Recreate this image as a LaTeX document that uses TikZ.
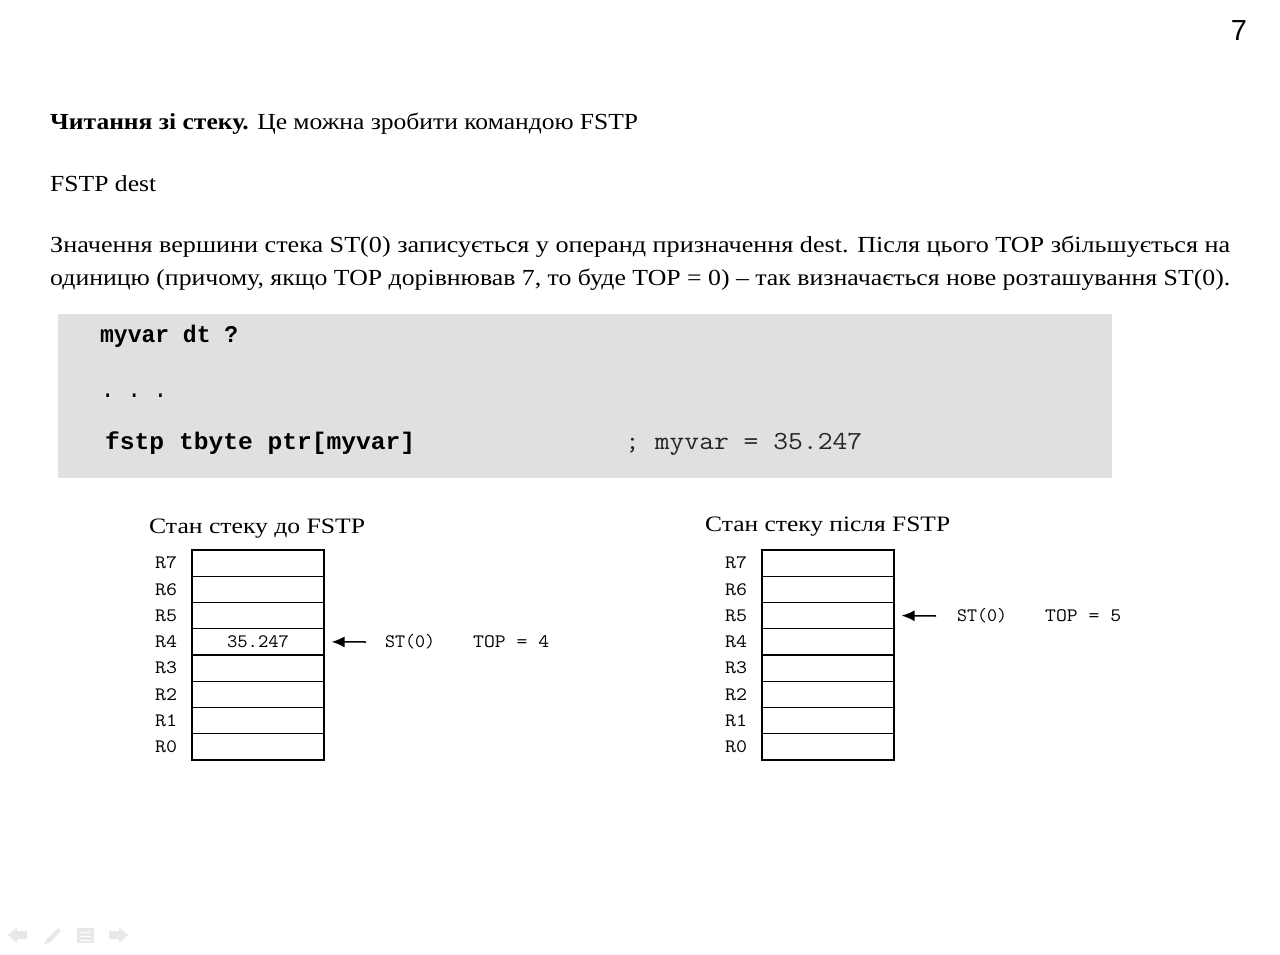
\documentclass[tikz,border=0pt]{standalone}
\usepackage{fontspec}
\usepackage{graphicx}
\setmainfont{Liberation Serif}
\setsansfont{Liberation Sans}
\newfontfamily\boldmono{Liberation Mono}
\usetikzlibrary{arrows.meta}
\definecolor{codebg}{HTML}{E0E0E0}
\definecolor{navgray}{HTML}{E8E8E8}
\newcommand\fitw[2]{\resizebox{#1}{\height}{#2}}
\tikzset{
  txt/.style={anchor=base west, inner sep=0pt, font=\fontsize{23}{27}\selectfont},
  code/.style={anchor=base west, inner sep=0pt, font=\boldmono\fontsize{24}{28}\selectfont},
  cmt/.style={anchor=base west, inner sep=0pt, font=\ttfamily\fontsize{26}{30}\selectfont},
  ttl/.style={anchor=base west, inner sep=0pt, font=\fontsize{22}{26}\selectfont},
  reg/.style={draw, line width=1.2pt, minimum width=132pt, minimum height=26.25pt, inner sep=0pt},
  rlab/.style={anchor=west, inner sep=0pt, font=\ttfamily\fontsize{19}{22}\selectfont},
  ptr/.style={line width=1.5pt, -{Latex[length=13pt,width=11pt]}},
}
\begin{document}
\begin{tikzpicture}[x=1pt,y=-1pt]
\useasboundingbox[fill=white] (0,0) rectangle (1280,955);
% page number
\node[inner sep=0pt, font=\sffamily\fontsize{29}{32}\selectfont] (pg) at (1239,31) {7};
% text
\node[txt] (t1) at (50,130) {\fitw{588pt}{\textbf{Читання зі стеку.} Це можна зробити командою FSTP}};
\node[txt] (t2) at (50,191) {\fitw{106pt}{FSTP dest}};
\node[txt] (t3) at (50,252) {\fitw{1180pt}{Значення вершини стека ST(0) записується у операнд призначення dest. Після цього TOP збільшується на}};
\node[txt] (t4) at (50,285) {\fitw{1180pt}{одиницю (причому, якщо TOP дорівнював 7, то буде TOP = 0) – так визначається нове розташування ST(0).}};
% code block
\fill[codebg] (58,314) rectangle (1112,478);
\node[code] (c1) at (100,342) {\fitw{138pt}{\textbf{myvar dt ?}}};
\node[code] (c2) at (102,397) {\fitw{64pt}{\textbf{. . .}}};
\node[code] (c3) at (105,449) {\fitw{310pt}{\textbf{fstp tbyte ptr[myvar]}}};
\node[cmt, text=black!85] (c4) at (625,449) {\fitw{237pt}{; myvar = 35.247}};
% left stack
\node[ttl] (lt) at (149,533) {\fitw{216pt}{Стан стеку до FSTP}};
\foreach \i in {7,...,0} {
  \pgfmathsetmacro\yy{550+(7-\i)*26.25+13.125}
  \node[reg] (L\i) at (258,\yy) {};
  \node[rlab] (LR\i) at (155,\yy) {\fitw{22pt}{R\i}};
}
\node[inner sep=0pt, font=\ttfamily\fontsize{19}{22}\selectfont] (val) at (L4) {\fitw{62pt}{35.247}};
\coordinate (la) at (366,642);
\draw[ptr] (la) -- ([xshift=7pt]L4.east);
\node[rlab] (lst) at (385,642) {\fitw{50pt}{ST(0)}};
\node[rlab] (ltop) at (473,642) {\fitw{76pt}{TOP = 4}};
% right stack
\node[ttl] (rt) at (705,531) {\fitw{245pt}{Стан стеку після FSTP}};
\foreach \i in {7,...,0} {
  \pgfmathsetmacro\yy{550+(7-\i)*26.25+13.125}
  \node[reg] (Q\i) at (828,\yy) {};
  \node[rlab] (QR\i) at (725,\yy) {\fitw{22pt}{R\i}};
}
\coordinate (ra) at (936,616);
\draw[ptr] (ra) -- ([xshift=7pt]Q5.east);
\node[rlab] (rst) at (957,616) {\fitw{50pt}{ST(0)}};
\node[rlab] (rtop) at (1045,616) {\fitw{76pt}{TOP = 5}};
% navigation icons
\fill[navgray] (8,935) -- (17,927) -- (17,931) -- (27,931) -- (27,939) -- (17,939) -- (17,943) -- cycle;
\fill[navgray] (44,944) -- (46,940) -- (58,928) -- (61,931) -- (49,943) -- cycle;
\fill[navgray] (77,928) rectangle (94,943);
\draw[white, line width=1pt] (80,932) -- (91,932) (80,936) -- (91,936) (80,940) -- (91,940);
\fill[navgray] (128,935) -- (119,927) -- (119,931) -- (109,931) -- (109,939) -- (119,939) -- (119,943) -- cycle;
\end{tikzpicture}
\end{document}
